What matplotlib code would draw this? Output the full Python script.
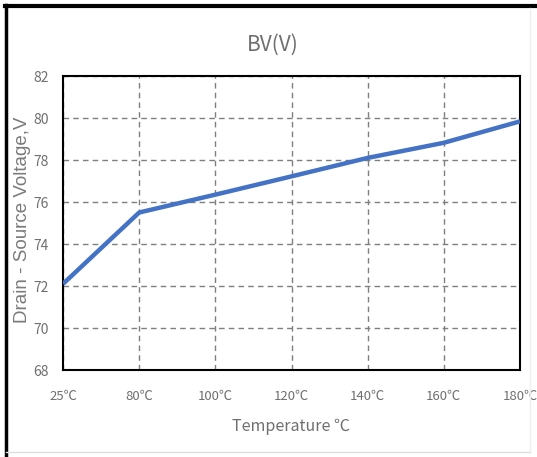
import matplotlib
matplotlib.use("Agg")
import matplotlib.pyplot as plt
from matplotlib.lines import Line2D

categories = ["25℃", "80℃", "100℃", "120℃", "140℃", "160℃", "180℃"]
bv_values = [72.1, 75.5, 76.35, 77.22, 78.1, 78.82, 79.84]
y_ticks = [68, 70, 72, 74, 76, 78, 80, 82]

plt.rcParams['font.family'] = ['Noto Sans CJK SC', 'DejaVu Sans']
text_color = "#6f6f6f"

fig = plt.figure(figsize=(5.37, 4.57), dpi=100)
ax = fig.add_axes([63/537, 1-370/457, (520-63)/537, (370-76)/457])

x = list(range(len(categories)))
ax.plot(x, bv_values, color="#4472C4", linewidth=3.2, solid_capstyle="butt", zorder=3)

ax.set_xlim(0, len(categories) - 1)
ax.set_ylim(68, 82)
ax.set_xticks(x)
ax.set_xticklabels(categories)
ax.set_yticks(y_ticks)
ax.tick_params(axis="x", length=0, labelsize=9.5, colors=text_color, pad=14)
ax.tick_params(axis="y", length=0, labelsize=10, colors=text_color, pad=10)

ax.grid(True, linestyle=(0, (4, 3)), color="#7f7f7f", linewidth=1.0)
for s in ax.spines.values():
    s.set_color("black")
    s.set_linewidth(1.5)

fig.text(273/537, 1-45/457, "BV(V)", fontsize=15, color=text_color, ha="center", va="center")
ax.set_xlabel("Temperature ℃", fontsize=11.5, color=text_color, labelpad=11)
fig.text(23/537, 1-220/457, "Drain - Source Voltage,V", fontsize=13.5, color="#7a7a7a",
         rotation=90, ha="center", va="center", family=["Liberation Sans", "DejaVu Sans"])

# figure border
fig.add_artist(Line2D([5/537, 535/537], [1-5.5/457, 1-5.5/457], transform=fig.transFigure, color="black", linewidth=3))
fig.add_artist(Line2D([6/537, 6/537], [1-5/457, 1-457/457], transform=fig.transFigure, color="black", linewidth=2.5))
fig.add_artist(Line2D([530/537, 530/537], [1-8/457, 1-452/457], transform=fig.transFigure, color="#eeeeee", linewidth=1))
fig.add_artist(Line2D([6/537, 530/537], [1-452/457, 1-452/457], transform=fig.transFigure, color="#dddddd", linewidth=1))

fig.savefig("out.png", dpi=100)
